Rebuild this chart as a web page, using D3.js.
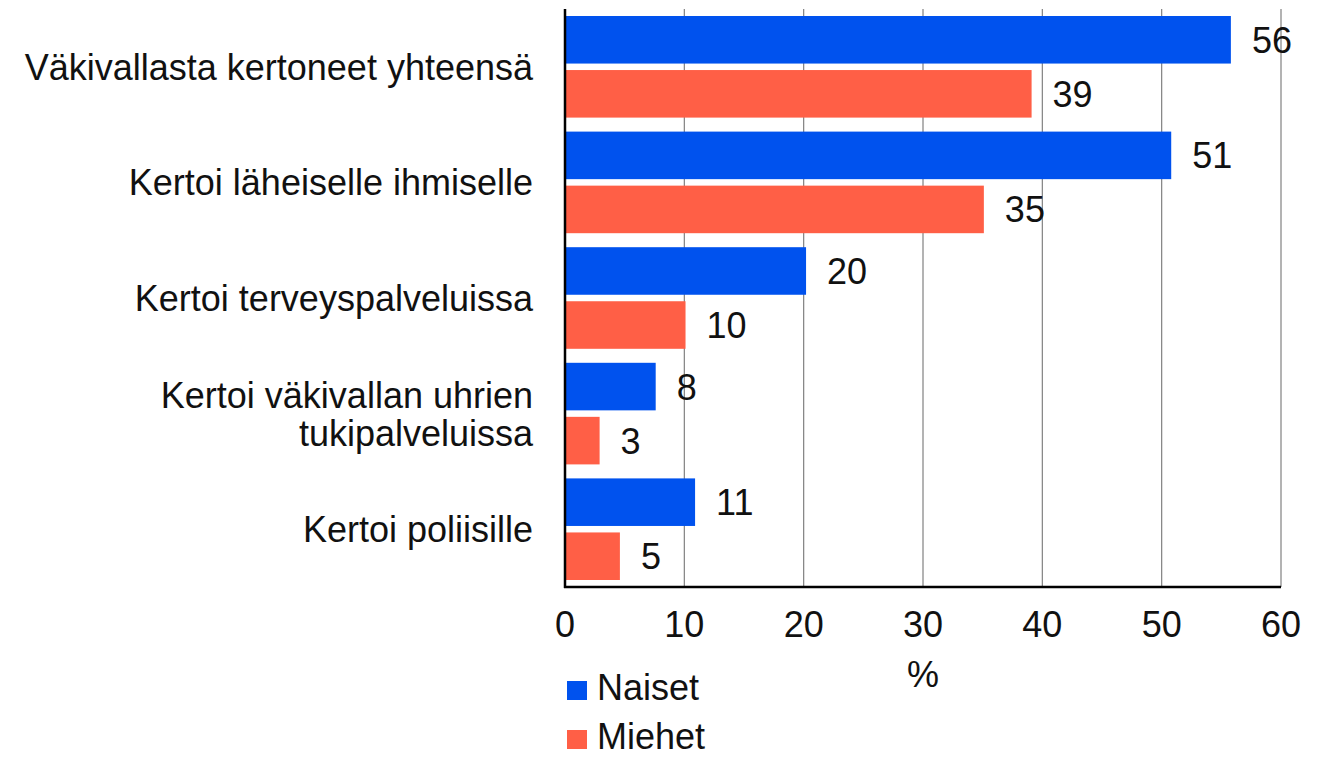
<!DOCTYPE html>
<html>
<head>
<meta charset="utf-8">
<script src="https://cdn.jsdelivr.net/npm/d3@7"></script>
<style>
  body { margin: 0; background: #fff; }
  svg { display: block; font-family: "Liberation Sans", Arial, sans-serif; }
</style>
</head>
<body>
<div id="chart"></div>
<script>
const kategoriat = [
  ["Väkivallasta kertoneet yhteensä"],
  ["Kertoi läheiselle ihmiselle"],
  ["Kertoi terveyspalveluissa"],
  ["Kertoi väkivallan uhrien", "tukipalveluissa"],
  ["Kertoi poliisille"],
];
const sarjat = ["Naiset", "Miehet"];
// palkkien pituudet luettu kuvasta, tekstit pyöristettynä
const naiset = [55.8, 50.8, 20.2, 7.6, 10.9];
const miehet = [39.1, 35.1, 10.1, 2.9, 4.6];
const tikit = [0, 10, 20, 30, 40, 50, 60];
const varit = { Naiset: "#0052ee", Miehet: "#ff5f46" };

const width = 1327;
const height = 757;
const plot = { left: 565, right: 1281, top: 9, bottom: 587 };
const fontSize = 36;

const data = kategoriat.map((k, i) => ({
  key: k.join(" "),
  lines: k,
  Naiset: naiset[i],
  Miehet: miehet[i],
}));

const svg = d3
  .select("#chart")
  .append("svg")
  .attr("width", width)
  .attr("height", height);

const x = d3.scaleLinear().domain([0, 60]).range([plot.left, plot.right]);

const y0 = d3
  .scaleBand()
  .domain(data.map((d) => d.key))
  .range([plot.top, plot.bottom])
  .padding(0);

const y1 = d3
  .scaleBand()
  .domain(sarjat)
  .range([7, y0.bandwidth() - 7])
  .paddingInner(0.12);

// pystysuuntaiset apuviivat
svg
  .append("g")
  .selectAll("line")
  .data(tikit.slice(1))
  .enter()
  .append("line")
  .attr("x1", (d) => x(d))
  .attr("x2", (d) => x(d))
  .attr("y1", plot.top)
  .attr("y2", plot.bottom)
  .attr("stroke", "#808080")
  .attr("stroke-width", 1.2);

// palkit
const ryhma = svg
  .append("g")
  .selectAll("g")
  .data(data)
  .enter()
  .append("g")
  .attr("transform", (d) => `translate(0,${y0(d.key)})`);

ryhma
  .selectAll("rect")
  .data((d) => sarjat.map((s) => ({ sarja: s, value: d[s] })))
  .enter()
  .append("rect")
  .attr("x", x(0))
  .attr("y", (d) => y1(d.sarja))
  .attr("width", (d) => x(d.value) - x(0))
  .attr("height", y1.bandwidth())
  .attr("fill", (d) => varit[d.sarja]);

ryhma
  .selectAll("text")
  .data((d) => sarjat.map((s) => ({ sarja: s, value: d[s] })))
  .enter()
  .append("text")
  .attr("x", (d) => x(d.value) + 21)
  .attr("y", (d) => y1(d.sarja) + y1.bandwidth() / 2)
  .attr("dy", "0.36em")
  .attr("font-size", fontSize)
  .attr("fill", "#111")
  .text((d) => Math.round(d.value));

// akselit
svg
  .append("line")
  .attr("x1", plot.left)
  .attr("x2", plot.left)
  .attr("y1", plot.top)
  .attr("y2", plot.bottom + 1)
  .attr("stroke", "#000")
  .attr("stroke-width", 2.5);

svg
  .append("line")
  .attr("x1", plot.left - 1)
  .attr("x2", plot.right)
  .attr("y1", plot.bottom)
  .attr("y2", plot.bottom)
  .attr("stroke", "#000")
  .attr("stroke-width", 2.5);

svg
  .append("g")
  .selectAll("text")
  .data(tikit)
  .enter()
  .append("text")
  .attr("x", (d) => x(d))
  .attr("y", plot.bottom + 50)
  .attr("text-anchor", "middle")
  .attr("font-size", fontSize)
  .attr("fill", "#111")
  .text((d) => d);

svg
  .append("text")
  .attr("x", x(30))
  .attr("y", 687)
  .attr("text-anchor", "middle")
  .attr("font-size", fontSize)
  .attr("fill", "#111")
  .text("%");

// kategorioiden nimet
const nimet = svg
  .append("g")
  .selectAll("text")
  .data(data)
  .enter()
  .append("text")
  .attr("text-anchor", "end")
  .attr("font-size", fontSize)
  .attr("fill", "#111");

const riviKorkeus = 38;
nimet
  .selectAll("tspan")
  .data((d) =>
    d.lines.map((l, i) => ({
      l,
      yy:
        y0(d.key) +
        y0.bandwidth() / 2 +
        (i - (d.lines.length - 1) / 2) * riviKorkeus,
    })),
  )
  .enter()
  .append("tspan")
  .attr("x", 533)
  .attr("y", (d) => d.yy)
  .attr("dy", "0.36em")
  .text((d) => d.l);

// selite
const selite = svg
  .append("g")
  .selectAll("g")
  .data(sarjat)
  .enter()
  .append("g")
  .attr("transform", (d, i) => `translate(567,${681 + i * 49})`);

selite
  .append("rect")
  .attr("width", 20)
  .attr("height", 19)
  .attr("fill", (d) => varit[d]);

selite
  .append("text")
  .attr("x", 30)
  .attr("y", 19)
  .attr("font-size", fontSize)
  .attr("fill", "#111")
  .text((d) => d);
</script>
</body>
</html>
